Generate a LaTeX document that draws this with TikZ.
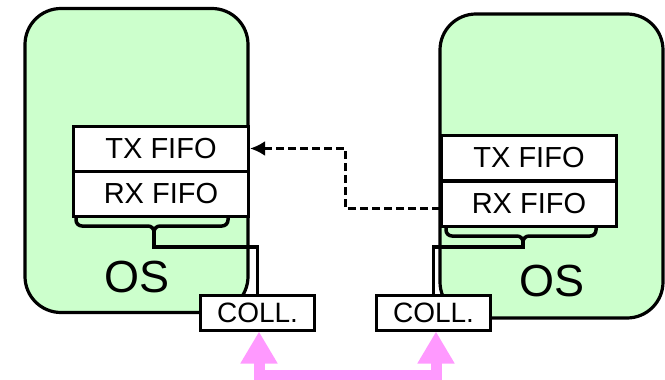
\documentclass[tikz,border=0pt]{standalone}
\usepackage{fontspec}
\setmainfont{Liberation Sans}
\usetikzlibrary{arrows.meta}
\definecolor{osgreen}{HTML}{CCFFCC}
\definecolor{collpink}{HTML}{FF99FF}
\tikzset{
  osbox/.style={draw=black, line width=3.2pt, fill=osgreen, rounded corners=36pt,
    minimum width=223pt, minimum height=304pt, inner sep=0pt},
  fifo/.style={draw=black, line width=3pt, fill=white, minimum width=175pt,
    minimum height=45pt, inner sep=0pt, font=\fontsize{29}{31}\selectfont},
  coll/.style={draw=black, line width=3pt, fill=white, minimum width=114pt,
    minimum height=35pt, inner sep=0pt, font=\fontsize{28}{30}\selectfont},
  oslabel/.style={font=\fontsize{45}{48}\selectfont, inner sep=0pt},
  wire/.style={draw=black, line width=3.5pt, line join=miter},
  bracel/.style={draw=black, line width=3.5pt, rounded corners=6pt},
  dashedarrow/.style={draw=black, line width=3pt, dash pattern=on 8pt off 4pt,
    -{Latex[length=15pt,width=15pt]}},
  pinkarrow/.style={draw=collpink, line width=11pt, line join=miter,
    {Triangle[length=32pt,width=35pt]}-{Triangle[length=32pt,width=35pt]}}
}
\begin{document}
\begin{tikzpicture}[x=1pt,y=-1pt]
\useasboundingbox (0,0) rectangle (665,380);
% OS boxes
\node[osbox] (osL) at (136.5,160.5) {};
\node[osbox] (osR) at (551.5,166) {};
\node[oslabel] (osLt) at (137,277) {OS};
\node[oslabel] (osRt) at (552,281) {OS};
% FIFO boxes
\node[fifo] (txL) at (161,148.5) {TX FIFO};
\node[fifo] (rxL) at (161,193.5) {RX FIFO};
\node[fifo] (txR) at (529,158) {TX FIFO};
\node[fifo] (rxR) at (529,203.5) {RX FIFO};
% COLL boxes
\node[coll] (collL) at (257.5,312.5) {COLL.};
\node[coll] (collR) at (433.5,312.5) {COLL.};
% braces
\coordinate (bLa) at (76,216);
\coordinate (bLb) at (228,216);
\coordinate (bLtip) at (154,226);
\coordinate (bRa) at (446,226);
\coordinate (bRb) at (596,226);
\coordinate (bRtip) at (523,236);
\draw[bracel] (bLa) |- (bLtip) -- ++(0,10);
\draw[bracel] (bLb) |- (bLtip) -- ++(0,10);
\draw[bracel] (bRa) |- (bRtip) -- ++(0,8);
\draw[bracel] (bRb) |- (bRtip) -- ++(0,8);
% wires
\draw[wire] ([yshift=-6pt]bLtip) -- ++(0,15) -| (collL.north);
\draw[wire] ([yshift=-6pt]bRtip) -- ++(0,5) -| (collR.north);
% dashed arrow
\draw[dashedarrow] ([yshift=-4.5pt]rxR.west) -| (345,148.5) -- (txL.east);
% pink arrow
\draw[pinkarrow] ([xshift=1.5pt]collL.south) -- ++(0,44) -| ([xshift=2.5pt]collR.south);
\end{tikzpicture}
\end{document}
